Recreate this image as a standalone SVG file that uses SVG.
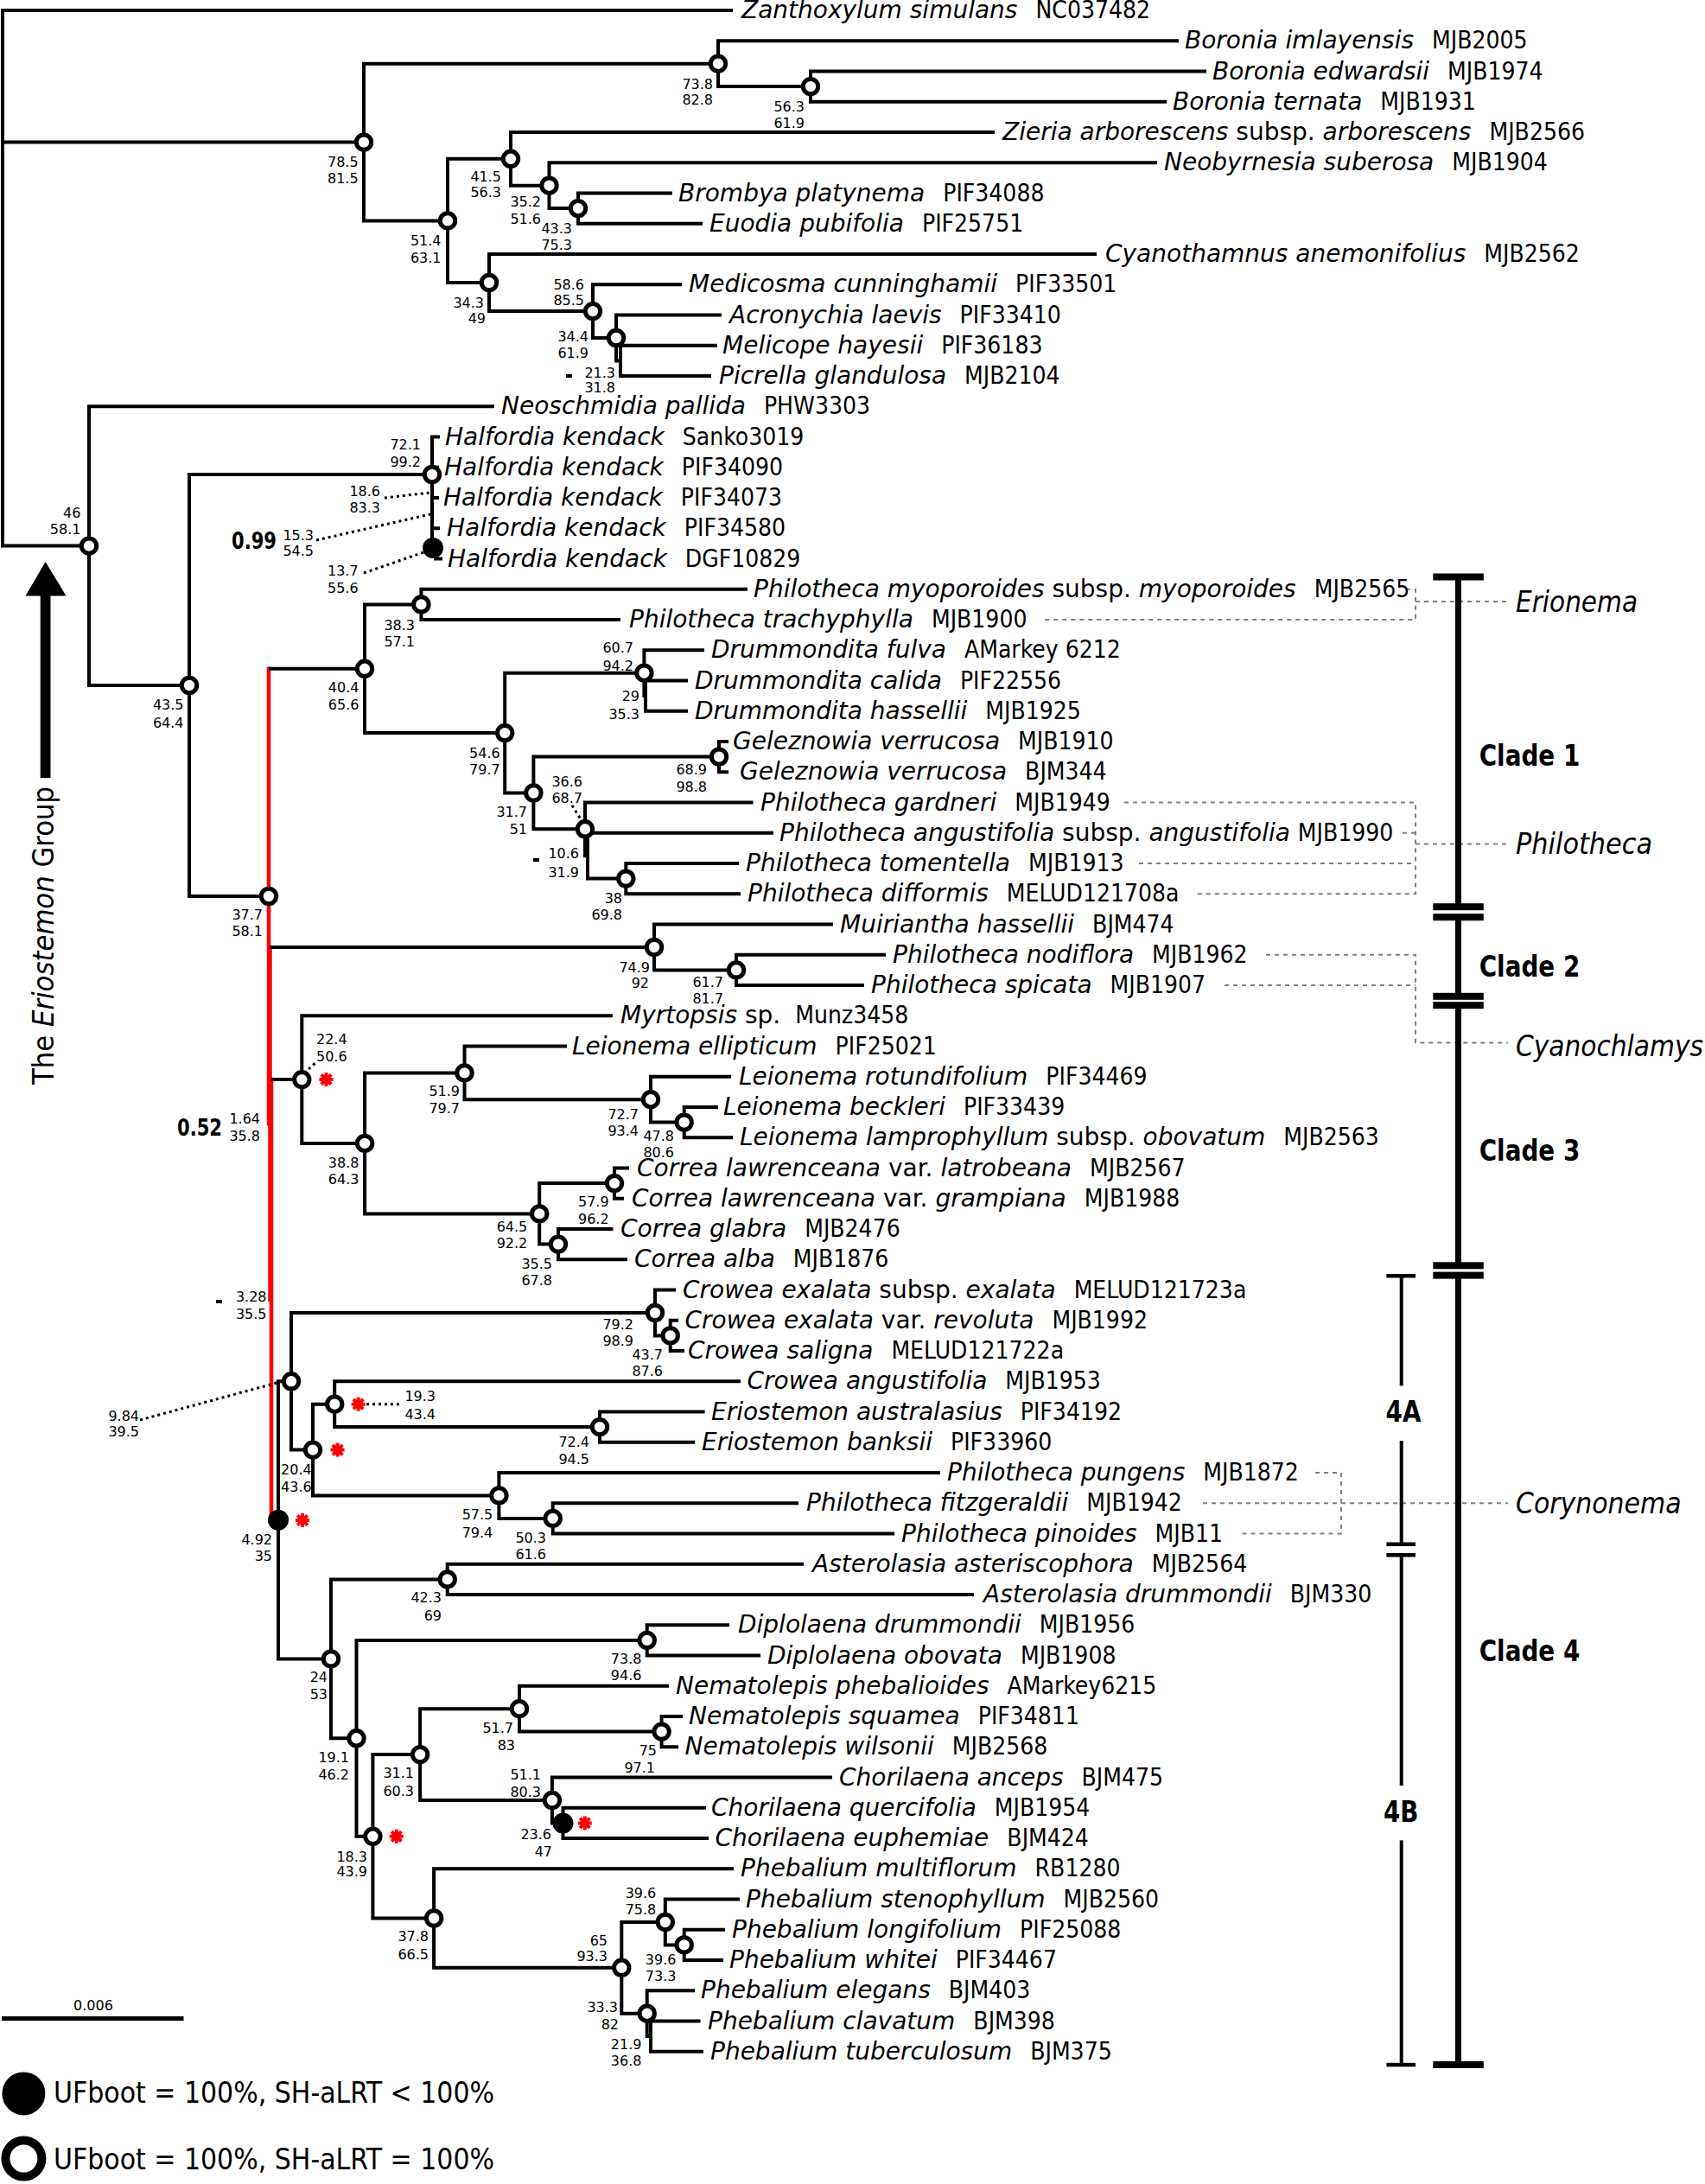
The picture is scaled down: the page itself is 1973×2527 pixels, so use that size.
<svg xmlns="http://www.w3.org/2000/svg" xmlns:xlink="http://www.w3.org/1999/xlink" width="1973" height="2527" viewBox="0 0 1973 2527">
<style>
.tx{font-family:'DejaVu Sans',sans-serif;font-size:28px;font-style:italic;fill:#000}
.rk{font-style:normal}
.cd{font-family:'DejaVu Sans Condensed','DejaVu Sans',sans-serif;font-stretch:condensed;font-style:normal}
.sv{font-family:'DejaVu Sans',sans-serif;font-size:16px;text-anchor:end;fill:#000}
.svs{font-family:'DejaVu Sans',sans-serif;font-size:16px;text-anchor:start;fill:#000}
.bd{font-family:'DejaVu Sans Condensed','DejaVu Sans',sans-serif;font-stretch:condensed;font-weight:bold;fill:#000}
.gn{font-family:'DejaVu Sans Condensed','DejaVu Sans',sans-serif;font-stretch:condensed;font-style:italic;font-size:33px;fill:#000}
.lg{font-family:'DejaVu Sans Condensed','DejaVu Sans',sans-serif;font-stretch:condensed;font-size:33px;fill:#000}
.br{fill:none;stroke:#000;stroke-width:4;stroke-linecap:square}
.rd{fill:none;stroke:#f00;stroke-width:4.5;stroke-linecap:square}
.dt{fill:none;stroke:#000;stroke-width:3;stroke-dasharray:3 4}
.gd{fill:none;stroke:#808080;stroke-width:2;stroke-dasharray:5 5}
.oc{fill:#fff;stroke:#000;stroke-width:5}
.fc{fill:#000}
.bar{fill:#000}
</style>
<defs>
<g id="ast"><path d="M-8,0H8M0,-8V8M-5.7,-5.7L5.7,5.7M-5.7,5.7L5.7,-5.7" stroke="#f00" stroke-width="4" fill="none"/></g>
</defs>
<rect width="1973" height="2527" fill="#fff"/>

<g id="connectors">
<path class="br" d="M3,12V631.6M3,12H846M3,164.6H421M3,631.6H103"/>
<path class="br" d="M421,73.7V255.4M421,73.7H831M421,255.4H518"/>
<path class="br" d="M831,47.25V100.1M831,47.25H1362M831,100.1H938"/>
<path class="br" d="M938,82.5V117.75M938,82.5H1394M938,117.75H1348"/>
<path class="br" d="M518,183.8V327M518,183.8H591M518,327H566"/>
<path class="br" d="M591,153V214.7M591,153H1149M591,214.7H635.5"/>
<path class="br" d="M635.5,188.25V241.1M635.5,188.25H1337M635.5,241.1H669"/>
<path class="br" d="M669,223.5V258.75M669,223.5H776M669,258.75H811"/>
<path class="br" d="M566,294V360.1M566,294H1267M566,360.1H686"/>
<path class="br" d="M686,329.25V391M686,329.25H787M686,391H713"/>
<path class="br" d="M713,364.5V417.4M713,364.5H833M713,417.4H718"/>
<path class="br" d="M718,399.75V435M718,399.75H828M718,435H821"/>
<path class="br" d="M103,470.25V793M103,470.25H570M103,793H219"/>
<path class="br" d="M219,549V1037M219,549H500M219,1037H311"/>
<path class="br" d="M500,505.5V634M504,634V646.5M500,505.5H507M500,540.75H506M500,576H506M500,611.25H507M504,646.5H510"/>
<path class="rd" d="M311,773.8V1300.2M312.5,1096V1504M314,1249.1V1758.8H320"/>
<path class="br" d="M313,773.8H422M314.5,1096H757M316,1249.1H349.3"/>
<path class="br" d="M422,699.4V848.1M422,699.4H487.4M422,848.1H584.2"/>
<path class="br" d="M487.4,681.75V717M487.4,681.75H863M487.4,717H716"/>
<path class="br" d="M584.2,778.7V917.5M584.2,778.7H745.4M584.2,917.5H617.4"/>
<path class="br" d="M745.4,752.25V805.1M745.4,752.25H813M745.4,805.1H747"/>
<path class="br" d="M747,787.5V822.75M747,787.5H794M747,822.75H794"/>
<path class="br" d="M617.4,875.6V959.3M617.4,875.6H832M617.4,959.3H677"/>
<path class="br" d="M832,858V893.25M832,858H841M832,893.25H841"/>
<path class="br" d="M677,928.5V990.2M677,928.5H869.5M677,990.2H680"/>
<path class="br" d="M680,963.75V1016.6M680,963.75H893M680,1016.6H724.3"/>
<path class="br" d="M724.3,999V1034.25M724.3,999H853M724.3,1034.25H855"/>
<path class="br" d="M757,1069.5V1122.4M757,1069.5H962M757,1122.4H852"/>
<path class="br" d="M852,1104.75V1140M852,1104.75H1023M852,1140H998"/>
<path class="br" d="M349.3,1175.25V1322.9M349.3,1175.25H707M349.3,1322.9H422.1"/>
<path class="br" d="M422.1,1241.4V1404.4M422.1,1241.4H537.5M422.1,1404.4H624.2"/>
<path class="br" d="M537.5,1210.5V1272.2M537.5,1210.5H654M537.5,1272.2H753"/>
<path class="br" d="M753,1245.75V1298.6M753,1245.75H844M753,1298.6H791.7"/>
<path class="br" d="M791.7,1281V1316.25M791.7,1281H829M791.7,1316.25H846"/>
<path class="br" d="M624.2,1369.1V1439.6M624.2,1369.1H711M624.2,1439.6H646"/>
<path class="br" d="M711,1351.5V1386.75M711,1351.5H726M711,1386.75H720"/>
<path class="br" d="M646,1422V1457.25M646,1422H707.5M646,1457.25H724"/>
<path class="br" d="M322,1598.3V1919.4M322,1598.3H337M322,1919.4H383"/>
<path class="br" d="M337,1519V1677.6M337,1519H758M337,1677.6H362"/>
<path class="br" d="M758,1492.5V1545.4M758,1492.5H780M758,1545.4H775.7"/>
<path class="br" d="M775.7,1527.75V1563M775.7,1527.75H783M775.7,1563H790"/>
<path class="br" d="M362,1624.7V1730.4M362,1624.7H387.2M362,1730.4H577.4"/>
<path class="br" d="M387.2,1598.25V1651.1M387.2,1598.25H855M387.2,1651.1H694"/>
<path class="br" d="M694,1633.5V1668.75M694,1633.5H813.6M694,1668.75H802"/>
<path class="br" d="M577.4,1704V1756.9M577.4,1704H1086M577.4,1756.9H639.7"/>
<path class="br" d="M639.7,1739.25V1774.5M639.7,1739.25H922M639.7,1774.5H1033"/>
<path class="br" d="M383,1827.4V2011.3M383,1827.4H517.7M383,2011.3H412.5"/>
<path class="br" d="M517.7,1809.75V1845M517.7,1809.75H928M517.7,1845H1125"/>
<path class="br" d="M412.5,1897.9V2124.8M412.5,1897.9H748.7M412.5,2124.8H431.4"/>
<path class="br" d="M748.7,1880.25V1915.5M748.7,1880.25H842M748.7,1915.5H878"/>
<path class="br" d="M431.4,2030.1V2219.5M431.4,2030.1H486.1M431.4,2219.5H502.1"/>
<path class="br" d="M486.1,1977.2V2083M486.1,1977.2H601M486.1,2083H638.9"/>
<path class="br" d="M601,1950.75V2003.6M601,1950.75H772M601,2003.6H765.6"/>
<path class="br" d="M765.6,1986V2021.25M765.6,1986H788M765.6,2021.25H783"/>
<path class="br" d="M638.9,2056.5V2109.4M638.9,2056.5H961M638.9,2109.4H651.5"/>
<path class="br" d="M651.5,2091.75V2127M651.5,2091.75H815M651.5,2127H818"/>
<path class="br" d="M502.1,2162.25V2276.8M502.1,2162.25H847M502.1,2276.8H719.3"/>
<path class="br" d="M719.3,2224V2329.7M719.3,2224H769.8M719.3,2329.7H748.7"/>
<path class="br" d="M769.8,2197.5V2250.4M769.8,2197.5H854M769.8,2250.4H791.7"/>
<path class="br" d="M791.7,2232.75V2268M791.7,2232.75H837M791.7,2268H835"/>
<path class="br" d="M748.7,2303.25V2356.1M748.7,2303.25H802M748.7,2356.1H753"/>
<path class="br" d="M753,2338.5V2373.75M753,2338.5H808.5M753,2373.75H812"/>
<!-- leader dotted lines -->
<path class="dt" d="M445,576L498,570M366,625L498,595M421,663L499,636M662,932L674,951M357,1237L366,1229M162,1643L324,1599M424,1624.7H463"/>
<!-- genus grey connectors -->
<path class="gd" d="M1627,681.75H1638V717H1206M1638,696H1745"/>
<path class="gd" d="M1301,928.5H1638V1034.25H1381M1623,963.75H1638M1318,999H1638M1638,976.6H1745"/>
<path class="gd" d="M1465,1104.75H1638V1206.4H1745M1417,1140H1638"/>
<path class="gd" d="M1522,1704H1552V1774.5H1434M1392,1739.25H1745"/>
</g>

<g id="internal-nodes">
<g id="n-73-8"><circle class="oc" cx="831" cy="73.7" r="8.7"/><text class="sv" x="825" y="102.7">73.8</text><text class="sv" x="825" y="121">82.8</text></g>
<g id="n-56-3"><circle class="oc" cx="938" cy="100.1" r="8.7"/><text class="sv" x="931" y="129">56.3</text><text class="sv" x="931" y="148">61.9</text></g>
<g id="n-78-5"><circle class="oc" cx="421" cy="164.6" r="8.7"/><text class="sv" x="414.6" y="193.4">78.5</text><text class="sv" x="414.6" y="212.3">81.5</text></g>
<g id="n-41-5"><circle class="oc" cx="591" cy="183.8" r="8.7"/><text class="sv" x="580" y="209.5">41.5</text><text class="sv" x="580" y="227.7">56.3</text></g>
<g id="n-35-2"><circle class="oc" cx="635.5" cy="214.7" r="8.7"/><text class="sv" x="626" y="239">35.2</text><text class="sv" x="626" y="259">51.6</text></g>
<g id="n-43-3"><circle class="oc" cx="669" cy="241.1" r="8.7"/><text class="sv" x="662" y="270">43.3</text><text class="sv" x="662" y="289.4">75.3</text></g>
<g id="n-51-4"><circle class="oc" cx="518" cy="255.4" r="8.7"/><text class="sv" x="510.5" y="284">51.4</text><text class="sv" x="510.5" y="304.3">63.1</text></g>
<g id="n-34-3"><circle class="oc" cx="566" cy="327" r="8.7"/><text class="sv" x="560" y="356">34.3</text><text class="sv" x="562" y="374">49</text></g>
<g id="n-58-6"><circle class="oc" cx="686" cy="360.1" r="8.7"/><text class="sv" x="676" y="334.5">58.6</text><text class="sv" x="676" y="353.4">85.5</text></g>
<g id="n-34-4"><circle class="oc" cx="713" cy="391" r="8.7"/><text class="sv" x="681" y="395">34.4</text><text class="sv" x="681" y="414">61.9</text></g>
<g id="n-21-3"><rect x="655" y="433" width="7" height="4" class="fc"/><text class="sv" x="712" y="436.5">21.3</text><text class="sv" x="712" y="454.2">31.8</text></g>
<g id="n-46"><circle class="oc" cx="103" cy="631.6" r="8.7"/><text class="sv" x="93.4" y="598.5">46</text><text class="sv" x="93.4" y="617.5">58.1</text></g>
<g id="n-72-1"><circle class="oc" cx="500" cy="549" r="8.7"/><text class="sv" x="487" y="520">72.1</text><text class="sv" x="487" y="540">99.2</text></g>
<g id="n-18-6"><text class="sv" x="440" y="573.5">18.6</text><text class="sv" x="440" y="592.5">83.3</text></g>
<g id="n-15-3"><text class="bd" x="268" y="635" font-size="26" textLength="52" lengthAdjust="spacingAndGlyphs">0.99</text><text class="sv" x="363" y="624.7">15.3</text><text class="sv" x="363" y="642.8">54.5</text></g>
<g id="n-13-7"><circle class="fc" cx="501" cy="634" r="12"/><text class="sv" x="414.6" y="666">13.7</text><text class="sv" x="414.6" y="686">55.6</text></g>
<g id="n-43-5"><circle class="oc" cx="219" cy="793" r="8.7"/><text class="sv" x="212.5" y="821">43.5</text><text class="sv" x="212.5" y="842">64.4</text></g>
<g id="n-37-7"><circle class="oc" cx="311" cy="1037" r="8.7"/><text class="sv" x="304" y="1064.4">37.7</text><text class="sv" x="304" y="1083.4">58.1</text></g>
<g id="n-40-4"><circle class="oc" cx="422" cy="773.8" r="8.7"/><text class="sv" x="415.4" y="801">40.4</text><text class="sv" x="415.4" y="821.4">65.6</text></g>
<g id="n-38-3"><circle class="oc" cx="487.4" cy="699.4" r="8.7"/><text class="sv" x="480" y="728.7">38.3</text><text class="sv" x="480" y="747.6">57.1</text></g>
<g id="n-54-6"><circle class="oc" cx="584.2" cy="848.1" r="8.7"/><text class="sv" x="578.7" y="876.6">54.6</text><text class="sv" x="578.7" y="896">79.7</text></g>
<g id="n-60-7"><circle class="oc" cx="745.4" cy="778.7" r="8.7"/><text class="sv" x="733" y="755">60.7</text><text class="sv" x="733" y="776">94.2</text></g>
<g id="n-29"><text class="sv" x="740" y="811.3">29</text><text class="sv" x="740" y="831.5">35.3</text></g>
<g id="n-31-7"><circle class="oc" cx="617.4" cy="917.5" r="8.7"/><text class="sv" x="610" y="945">31.7</text><text class="sv" x="610" y="965.3">51</text></g>
<g id="n-68-9"><circle class="oc" cx="832" cy="875.6" r="8.7"/><text class="sv" x="818" y="896">68.9</text><text class="sv" x="818" y="916">98.8</text></g>
<g id="n-36-6"><circle class="oc" cx="677" cy="959.3" r="8.7"/><text class="sv" x="674" y="910">36.6</text><text class="sv" x="674" y="929">68.7</text></g>
<g id="n-10-6"><rect x="617" y="993" width="7" height="4" class="fc"/><text class="sv" x="670" y="993">10.6</text><text class="sv" x="670" y="1015">31.9</text></g>
<g id="n-38"><circle class="oc" cx="724.3" cy="1016.6" r="8.7"/><text class="sv" x="720" y="1045">38</text><text class="sv" x="720" y="1064">69.8</text></g>
<g id="n-74-9"><circle class="oc" cx="757" cy="1096" r="8.7"/><text class="sv" x="752" y="1125">74.9</text><text class="sv" x="751" y="1143">92</text></g>
<g id="n-61-7"><circle class="oc" cx="852" cy="1122.4" r="8.7"/><text class="sv" x="837" y="1141.8">61.7</text><text class="sv" x="837" y="1161">81.7</text></g>
<g id="n-22-4"><circle class="oc" cx="349.3" cy="1249.1" r="8.7"/><text class="svs" x="366" y="1207.5">22.4</text><text class="svs" x="366" y="1227.7">50.6</text><use xlink:href="#ast" href="#ast" x="377.5" y="1249"/></g>
<g id="n-38-8"><circle class="oc" cx="422.1" cy="1322.9" r="8.7"/><text class="sv" x="415.4" y="1350.6">38.8</text><text class="sv" x="415.4" y="1370">64.3</text></g>
<g id="n-51-9"><circle class="oc" cx="537.5" cy="1241.4" r="8.7"/><text class="sv" x="532" y="1268">51.9</text><text class="sv" x="532" y="1288">79.7</text></g>
<g id="n-72-7"><circle class="oc" cx="753" cy="1272.2" r="8.7"/><text class="sv" x="739" y="1295.4">72.7</text><text class="sv" x="739" y="1314.3">93.4</text></g>
<g id="n-47-8"><circle class="oc" cx="791.7" cy="1298.6" r="8.7"/><text class="sv" x="780" y="1320.4">47.8</text><text class="sv" x="780" y="1339.3">80.6</text></g>
<g id="n-64-5"><circle class="oc" cx="624.2" cy="1404.4" r="8.7"/><text class="sv" x="610.3" y="1425.2">64.5</text><text class="sv" x="610.3" y="1444.1">92.2</text></g>
<g id="n-57-9"><circle class="oc" cx="711" cy="1369.1" r="8.7"/><text class="sv" x="704.6" y="1395.8">57.9</text><text class="sv" x="704.6" y="1416">96.2</text></g>
<g id="n-35-5"><circle class="oc" cx="646" cy="1439.6" r="8.7"/><text class="sv" x="639" y="1467.5">35.5</text><text class="sv" x="639" y="1486.8">67.8</text></g>
<g id="n-1-64"><text class="bd" x="205" y="1314" font-size="27" textLength="52" lengthAdjust="spacingAndGlyphs">0.52</text><text class="sv" x="301" y="1300">1.64</text><text class="sv" x="301" y="1320">35.8</text></g>
<g id="n-3-28"><rect x="250" y="1504" width="7" height="4" class="fc"/><text class="sv" x="308.5" y="1506">3.28</text><text class="sv" x="308.5" y="1526">35.5</text></g>
<g id="n-4-92"><circle class="fc" cx="322" cy="1758.8" r="12"/><text class="sv" x="315" y="1786.7">4.92</text><text class="sv" x="315" y="1806">35</text><use xlink:href="#ast" href="#ast" x="350" y="1759"/></g>
<g id="n-9-84"><circle class="oc" cx="337" cy="1598.3" r="8.7"/><text class="svs" x="125.4" y="1643.6">9.84</text><text class="svs" x="125.4" y="1661.8">39.5</text></g>
<g id="n-79-2"><circle class="oc" cx="758" cy="1519" r="8.7"/><text class="sv" x="733" y="1538">79.2</text><text class="sv" x="733" y="1557">98.9</text></g>
<g id="n-43-7"><circle class="oc" cx="775.7" cy="1545.4" r="8.7"/><text class="sv" x="767" y="1573">43.7</text><text class="sv" x="767" y="1592.4">87.6</text></g>
<g id="n-20-4"><circle class="oc" cx="362" cy="1677.6" r="8.7"/><text class="sv" x="360.7" y="1706">20.4</text><text class="sv" x="360.7" y="1725.5">43.6</text><use xlink:href="#ast" href="#ast" x="390.6" y="1677.6"/></g>
<g id="n-19-3"><circle class="oc" cx="387.2" cy="1624.7" r="8.7"/><text class="svs" x="468.4" y="1620.7">19.3</text><text class="svs" x="468.4" y="1641.6">43.4</text><use xlink:href="#ast" href="#ast" x="414.6" y="1624.7"/></g>
<g id="n-72-4"><circle class="oc" cx="694" cy="1651.1" r="8.7"/><text class="sv" x="682" y="1674.3">72.4</text><text class="sv" x="682" y="1694">94.5</text></g>
<g id="n-57-5"><circle class="oc" cx="577.4" cy="1730.4" r="8.7"/><text class="sv" x="570.3" y="1757.7">57.5</text><text class="sv" x="570.3" y="1778.7">79.4</text></g>
<g id="n-50-3"><circle class="oc" cx="639.7" cy="1756.9" r="8.7"/><text class="sv" x="632" y="1784.7">50.3</text><text class="sv" x="632" y="1804">61.6</text></g>
<g id="n-24"><circle class="oc" cx="383" cy="1919.4" r="8.7"/><text class="sv" x="379" y="1945.5">24</text><text class="sv" x="379" y="1966.4">53</text></g>
<g id="n-42-3"><circle class="oc" cx="517.7" cy="1827.4" r="8.7"/><text class="sv" x="511" y="1853.6">42.3</text><text class="sv" x="511" y="1874.6">69</text></g>
<g id="n-19-1"><circle class="oc" cx="412.5" cy="2011.3" r="8.7"/><text class="sv" x="404" y="2038.8">19.1</text><text class="sv" x="404" y="2059">46.2</text></g>
<g id="n-73-8b"><circle class="oc" cx="748.7" cy="1897.9" r="8.7"/><text class="sv" x="742.4" y="1925">73.8</text><text class="sv" x="742.4" y="1944.3">94.6</text></g>
<g id="n-18-3"><circle class="oc" cx="431.4" cy="2124.8" r="8.7"/><text class="sv" x="425" y="2153.5">18.3</text><text class="sv" x="425" y="2170.8">43.9</text><use xlink:href="#ast" href="#ast" x="458.8" y="2124.8"/></g>
<g id="n-31-1"><circle class="oc" cx="486.1" cy="2030.1" r="8.7"/><text class="sv" x="479" y="2057">31.1</text><text class="sv" x="479" y="2078">60.3</text></g>
<g id="n-51-7"><circle class="oc" cx="601" cy="1977.2" r="8.7"/><text class="sv" x="594" y="2004.8">51.7</text><text class="sv" x="596" y="2025">83</text></g>
<g id="n-75"><circle class="oc" cx="765.6" cy="2003.6" r="8.7"/><text class="sv" x="760" y="2030.8">75</text><text class="sv" x="758" y="2050.9">97.1</text></g>
<g id="n-51-1"><circle class="oc" cx="638.9" cy="2083" r="8.7"/><text class="sv" x="626" y="2059.2">51.1</text><text class="sv" x="626" y="2079.3">80.3</text></g>
<g id="n-23-6"><circle class="fc" cx="651.5" cy="2109.4" r="12"/><text class="sv" x="638" y="2128.2">23.6</text><text class="sv" x="639" y="2148.3">47</text><use xlink:href="#ast" href="#ast" x="676.8" y="2109.4"/></g>
<g id="n-37-8"><circle class="oc" cx="502.1" cy="2219.5" r="8.7"/><text class="sv" x="496" y="2246">37.8</text><text class="sv" x="496" y="2267">66.5</text></g>
<g id="n-65"><circle class="oc" cx="719.3" cy="2276.8" r="8.7"/><text class="sv" x="703" y="2251">65</text><text class="sv" x="703" y="2269.4">93.3</text></g>
<g id="n-39-6a"><circle class="oc" cx="769.8" cy="2224" r="8.7"/><text class="sv" x="759.3" y="2195.8">39.6</text><text class="sv" x="759.3" y="2215">75.8</text></g>
<g id="n-39-6b"><circle class="oc" cx="791.7" cy="2250.4" r="8.7"/><text class="sv" x="782.4" y="2273">39.6</text><text class="sv" x="782.4" y="2292.3">73.3</text></g>
<g id="n-33-3"><circle class="oc" cx="748.7" cy="2329.7" r="8.7"/><text class="sv" x="715" y="2327.8">33.3</text><text class="sv" x="716" y="2347.9">82</text></g>
<g id="n-21-9"><text class="sv" x="742.4" y="2370.8">21.9</text><text class="sv" x="742.4" y="2390">36.8</text></g>
</g>

<g id="taxa">
<g id="t00"><text class="tx" x="858" y="21">Zanthoxylum simulans<tspan class="cd" dx="21">NC037482</tspan></text></g>
<g id="t01"><text class="tx" x="1371" y="56.25">Boronia imlayensis<tspan class="cd" dx="21">MJB2005</tspan></text></g>
<g id="t02"><text class="tx" x="1403" y="91.5">Boronia edwardsii<tspan class="cd" dx="21">MJB1974</tspan></text></g>
<g id="t03"><text class="tx" x="1357" y="126.75">Boronia ternata<tspan class="cd" dx="21">MJB1931</tspan></text></g>
<g id="t04"><text class="tx" x="1160" y="162">Zieria arborescens <tspan class="rk">subsp.</tspan> arborescens<tspan class="cd" dx="21">MJB2566</tspan></text></g>
<g id="t05"><text class="tx" x="1347" y="197.25">Neobyrnesia suberosa<tspan class="cd" dx="21">MJB1904</tspan></text></g>
<g id="t06"><text class="tx" x="785" y="232.5">Brombya platynema<tspan class="cd" dx="21">PIF34088</tspan></text></g>
<g id="t07"><text class="tx" x="821" y="267.75">Euodia pubifolia<tspan class="cd" dx="21">PIF25751</tspan></text></g>
<g id="t08"><text class="tx" x="1279" y="303">Cyanothamnus anemonifolius<tspan class="cd" dx="21">MJB2562</tspan></text></g>
<g id="t09"><text class="tx" x="797" y="338.25">Medicosma cunninghamii<tspan class="cd" dx="21">PIF33501</tspan></text></g>
<g id="t10"><text class="tx" x="844" y="373.5">Acronychia laevis<tspan class="cd" dx="21">PIF33410</tspan></text></g>
<g id="t11"><text class="tx" x="836" y="408.75">Melicope hayesii<tspan class="cd" dx="21">PIF36183</tspan></text></g>
<g id="t12"><text class="tx" x="832" y="444">Picrella glandulosa<tspan class="cd" dx="21">MJB2104</tspan></text></g>
<g id="t13"><text class="tx" x="580" y="479.25">Neoschmidia pallida<tspan class="cd" dx="21">PHW3303</tspan></text></g>
<g id="t14"><text class="tx" x="515" y="514.5">Halfordia kendack<tspan class="cd" dx="21">Sanko3019</tspan></text></g>
<g id="t15"><text class="tx" x="514" y="549.75">Halfordia kendack<tspan class="cd" dx="21">PIF34090</tspan></text></g>
<g id="t16"><text class="tx" x="513" y="585">Halfordia kendack<tspan class="cd" dx="21">PIF34073</tspan></text></g>
<g id="t17"><text class="tx" x="517" y="620.25">Halfordia kendack<tspan class="cd" dx="21">PIF34580</tspan></text></g>
<g id="t18"><text class="tx" x="518" y="655.5">Halfordia kendack<tspan class="cd" dx="21">DGF10829</tspan></text></g>
<g id="t19"><text class="tx" x="872" y="690.75">Philotheca myoporoides <tspan class="rk">subsp.</tspan> myoporoides<tspan class="cd" dx="21">MJB2565</tspan></text></g>
<g id="t20"><text class="tx" x="728" y="726">Philotheca trachyphylla<tspan class="cd" dx="21">MJB1900</tspan></text></g>
<g id="t21"><text class="tx" x="823" y="761.25">Drummondita fulva<tspan class="cd" dx="21">AMarkey 6212</tspan></text></g>
<g id="t22"><text class="tx" x="804" y="796.5">Drummondita calida<tspan class="cd" dx="21">PIF22556</tspan></text></g>
<g id="t23"><text class="tx" x="804" y="831.75">Drummondita hassellii<tspan class="cd" dx="21">MJB1925</tspan></text></g>
<g id="t24"><text class="tx" x="848" y="867">Geleznowia verrucosa<tspan class="cd" dx="21">MJB1910</tspan></text></g>
<g id="t25"><text class="tx" x="856" y="902.25">Geleznowia verrucosa<tspan class="cd" dx="21">BJM344</tspan></text></g>
<g id="t26"><text class="tx" x="880" y="937.5">Philotheca gardneri<tspan class="cd" dx="21">MJB1949</tspan></text></g>
<g id="t27"><text class="tx" x="902" y="972.75">Philotheca angustifolia <tspan class="rk">subsp.</tspan> angustifolia<tspan class="cd" dx="9">MJB1990</tspan></text></g>
<g id="t28"><text class="tx" x="863" y="1008">Philotheca tomentella<tspan class="cd" dx="21">MJB1913</tspan></text></g>
<g id="t29"><text class="tx" x="865" y="1043.25">Philotheca difformis<tspan class="cd" dx="21">MELUD121708a</tspan></text></g>
<g id="t30"><text class="tx" x="972" y="1078.5">Muiriantha hassellii<tspan class="cd" dx="21">BJM474</tspan></text></g>
<g id="t31"><text class="tx" x="1033" y="1113.75">Philotheca nodiflora<tspan class="cd" dx="21">MJB1962</tspan></text></g>
<g id="t32"><text class="tx" x="1008" y="1149">Philotheca spicata<tspan class="cd" dx="21">MJB1907</tspan></text></g>
<g id="t33"><text class="tx" x="718" y="1184.25">Myrtopsis <tspan class="rk">sp.</tspan><tspan class="cd" dx="17">Munz3458</tspan></text></g>
<g id="t34"><text class="tx" x="662" y="1219.5">Leionema ellipticum<tspan class="cd" dx="21">PIF25021</tspan></text></g>
<g id="t35"><text class="tx" x="855" y="1254.75">Leionema rotundifolium<tspan class="cd" dx="21">PIF34469</tspan></text></g>
<g id="t36"><text class="tx" x="837" y="1290">Leionema beckleri<tspan class="cd" dx="21">PIF33439</tspan></text></g>
<g id="t37"><text class="tx" x="856" y="1325.25">Leionema lamprophyllum <tspan class="rk">subsp.</tspan> obovatum<tspan class="cd" dx="21">MJB2563</tspan></text></g>
<g id="t38"><text class="tx" x="737" y="1360.5">Correa lawrenceana <tspan class="rk">var.</tspan> latrobeana<tspan class="cd" dx="21">MJB2567</tspan></text></g>
<g id="t39"><text class="tx" x="731" y="1395.75">Correa lawrenceana <tspan class="rk">var.</tspan> grampiana<tspan class="cd" dx="21">MJB1988</tspan></text></g>
<g id="t40"><text class="tx" x="718" y="1431">Correa glabra<tspan class="cd" dx="21">MJB2476</tspan></text></g>
<g id="t41"><text class="tx" x="734" y="1466.25">Correa alba<tspan class="cd" dx="21">MJB1876</tspan></text></g>
<g id="t42"><text class="tx" x="790" y="1501.5">Crowea exalata <tspan class="rk">subsp.</tspan> exalata<tspan class="cd" dx="21">MELUD121723a</tspan></text></g>
<g id="t43"><text class="tx" x="792.5" y="1536.75">Crowea exalata <tspan class="rk">var.</tspan> revoluta<tspan class="cd" dx="21">MJB1992</tspan></text></g>
<g id="t44"><text class="tx" x="796" y="1572">Crowea saligna<tspan class="cd" dx="21">MELUD121722a</tspan></text></g>
<g id="t45"><text class="tx" x="864.5" y="1607.25">Crowea angustifolia<tspan class="cd" dx="21">MJB1953</tspan></text></g>
<g id="t46"><text class="tx" x="823" y="1642.5">Eriostemon australasius<tspan class="cd" dx="21">PIF34192</tspan></text></g>
<g id="t47"><text class="tx" x="812" y="1677.75">Eriostemon banksii<tspan class="cd" dx="21">PIF33960</tspan></text></g>
<g id="t48"><text class="tx" x="1096" y="1713">Philotheca pungens<tspan class="cd" dx="21">MJB1872</tspan></text></g>
<g id="t49"><text class="tx" x="933" y="1748.25">Philotheca fitzgeraldii<tspan class="cd" dx="21">MJB1942</tspan></text></g>
<g id="t50"><text class="tx" x="1043" y="1783.5">Philotheca pinoides<tspan class="cd" dx="21">MJB11</tspan></text></g>
<g id="t51"><text class="tx" x="940" y="1818.75">Asterolasia asteriscophora<tspan class="cd" dx="21">MJB2564</tspan></text></g>
<g id="t52"><text class="tx" x="1138" y="1854">Asterolasia drummondii<tspan class="cd" dx="21">BJM330</tspan></text></g>
<g id="t53"><text class="tx" x="854" y="1889.25">Diplolaena drummondii<tspan class="cd" dx="21">MJB1956</tspan></text></g>
<g id="t54"><text class="tx" x="888" y="1924.5">Diplolaena obovata<tspan class="cd" dx="21">MJB1908</tspan></text></g>
<g id="t55"><text class="tx" x="782" y="1959.75">Nematolepis phebalioides<tspan class="cd" dx="21">AMarkey6215</tspan></text></g>
<g id="t56"><text class="tx" x="797" y="1995">Nematolepis squamea<tspan class="cd" dx="21">PIF34811</tspan></text></g>
<g id="t57"><text class="tx" x="792.5" y="2030.25">Nematolepis wilsonii<tspan class="cd" dx="21">MJB2568</tspan></text></g>
<g id="t58"><text class="tx" x="971" y="2065.5">Chorilaena anceps<tspan class="cd" dx="21">BJM475</tspan></text></g>
<g id="t59"><text class="tx" x="823" y="2100.75">Chorilaena quercifolia<tspan class="cd" dx="21">MJB1954</tspan></text></g>
<g id="t60"><text class="tx" x="827.5" y="2136">Chorilaena euphemiae<tspan class="cd" dx="21">BJM424</tspan></text></g>
<g id="t61"><text class="tx" x="857" y="2171.25">Phebalium multiflorum<tspan class="cd" dx="21">RB1280</tspan></text></g>
<g id="t62"><text class="tx" x="863" y="2206.5">Phebalium stenophyllum<tspan class="cd" dx="21">MJB2560</tspan></text></g>
<g id="t63"><text class="tx" x="847" y="2241.75">Phebalium longifolium<tspan class="cd" dx="21">PIF25088</tspan></text></g>
<g id="t64"><text class="tx" x="844" y="2277">Phebalium whitei<tspan class="cd" dx="21">PIF34467</tspan></text></g>
<g id="t65"><text class="tx" x="811" y="2312.25">Phebalium elegans<tspan class="cd" dx="21">BJM403</tspan></text></g>
<g id="t66"><text class="tx" x="819" y="2347.5">Phebalium clavatum<tspan class="cd" dx="21">BJM398</tspan></text></g>
<g id="t67"><text class="tx" x="822" y="2382.75">Phebalium tuberculosum<tspan class="cd" dx="21">BJM375</tspan></text></g>
</g>

<g id="clade-bars">
<rect class="bar" x="1684" y="667" width="7" height="382"/>
<rect class="bar" x="1684" y="1061" width="7" height="92"/>
<rect class="bar" x="1684" y="1163" width="7" height="301"/>
<rect class="bar" x="1684" y="1476" width="7" height="913"/>
<rect class="bar" x="1658.3" y="663.5" width="58.5" height="8"/>
<rect class="bar" x="1658.3" y="1045.2" width="58.5" height="8"/>
<rect class="bar" x="1658.3" y="1057.2" width="58.5" height="8"/>
<rect class="bar" x="1658.3" y="1148.8" width="58.5" height="8"/>
<rect class="bar" x="1658.3" y="1159.2" width="58.5" height="8"/>
<rect class="bar" x="1658.3" y="1460.3" width="58.5" height="8"/>
<rect class="bar" x="1658.3" y="1471.6" width="58.5" height="8"/>
<rect class="bar" x="1658.3" y="2385" width="58.5" height="8"/>
<rect class="bar" x="1619.7" y="1476" width="4" height="127.4"/>
<rect class="bar" x="1619.7" y="1667" width="4" height="120"/>
<rect class="bar" x="1619.7" y="1799" width="4" height="267"/>
<rect class="bar" x="1619.7" y="2129.4" width="4" height="259.6"/>
<rect class="bar" x="1604.4" y="1474" width="33.6" height="4.5"/>
<rect class="bar" x="1604.4" y="1784.5" width="33.6" height="4.5"/>
<rect class="bar" x="1604.4" y="1797" width="33.6" height="4.5"/>
<rect class="bar" x="1604.4" y="2386.8" width="33.6" height="4.5"/>
</g>
<g id="clade-labels">
<text class="bd" x="1711.7" y="886" font-size="33" textLength="116.6" lengthAdjust="spacingAndGlyphs">Clade 1</text>
<text class="bd" x="1711.7" y="1130" font-size="33" textLength="116.6" lengthAdjust="spacingAndGlyphs">Clade 2</text>
<text class="bd" x="1711.7" y="1342.6" font-size="33" textLength="116.6" lengthAdjust="spacingAndGlyphs">Clade 3</text>
<text class="bd" x="1711.7" y="1922" font-size="33" textLength="116.6" lengthAdjust="spacingAndGlyphs">Clade 4</text>
<text class="bd" x="1603.6" y="1645" font-size="33" textLength="40.8" lengthAdjust="spacingAndGlyphs">4A</text>
<text class="bd" x="1601" y="2108" font-size="33" textLength="40.4" lengthAdjust="spacingAndGlyphs">4B</text>
</g>
<g id="genus-labels">
<text class="gn" x="1754" y="708" textLength="141" lengthAdjust="spacingAndGlyphs">Erionema</text>
<text class="gn" x="1754" y="988" textLength="158" lengthAdjust="spacingAndGlyphs">Philotheca</text>
<text class="gn" x="1754" y="1222" textLength="217" lengthAdjust="spacingAndGlyphs">Cyanochlamys</text>
<text class="gn" x="1754" y="1751" textLength="191.5" lengthAdjust="spacingAndGlyphs">Corynonema</text>
</g>
<g id="group-arrow">
<polygon points="52.6,650 29.5,689.6 76.6,689.6" fill="#000"/>
<rect x="46.7" y="688" width="11.8" height="212" fill="#000"/>
<text class="lg" transform="translate(62,1255) rotate(-90)" x="0" y="0" textLength="345" lengthAdjust="spacingAndGlyphs">The <tspan font-style="italic">Eriostemon</tspan> Group</text>
</g>
<g id="scale-bar">
<rect x="2" y="2333" width="210.5" height="5" fill="#000"/>
<text class="sv" x="108" y="2326" style="text-anchor:middle">0.006</text>
</g>
<g id="legend">
<circle cx="27.4" cy="2422.4" r="25" fill="#000"/>
<text class="lg" x="62" y="2433" textLength="510" lengthAdjust="spacingAndGlyphs">UFboot = 100%, SH-aLRT &lt; 100%</text>
<circle cx="27.4" cy="2497.6" r="21" fill="#fff" stroke="#000" stroke-width="10"/>
<text class="lg" x="62" y="2510" textLength="510" lengthAdjust="spacingAndGlyphs">UFboot = 100%, SH-aLRT = 100%</text>
</g>
</svg>
